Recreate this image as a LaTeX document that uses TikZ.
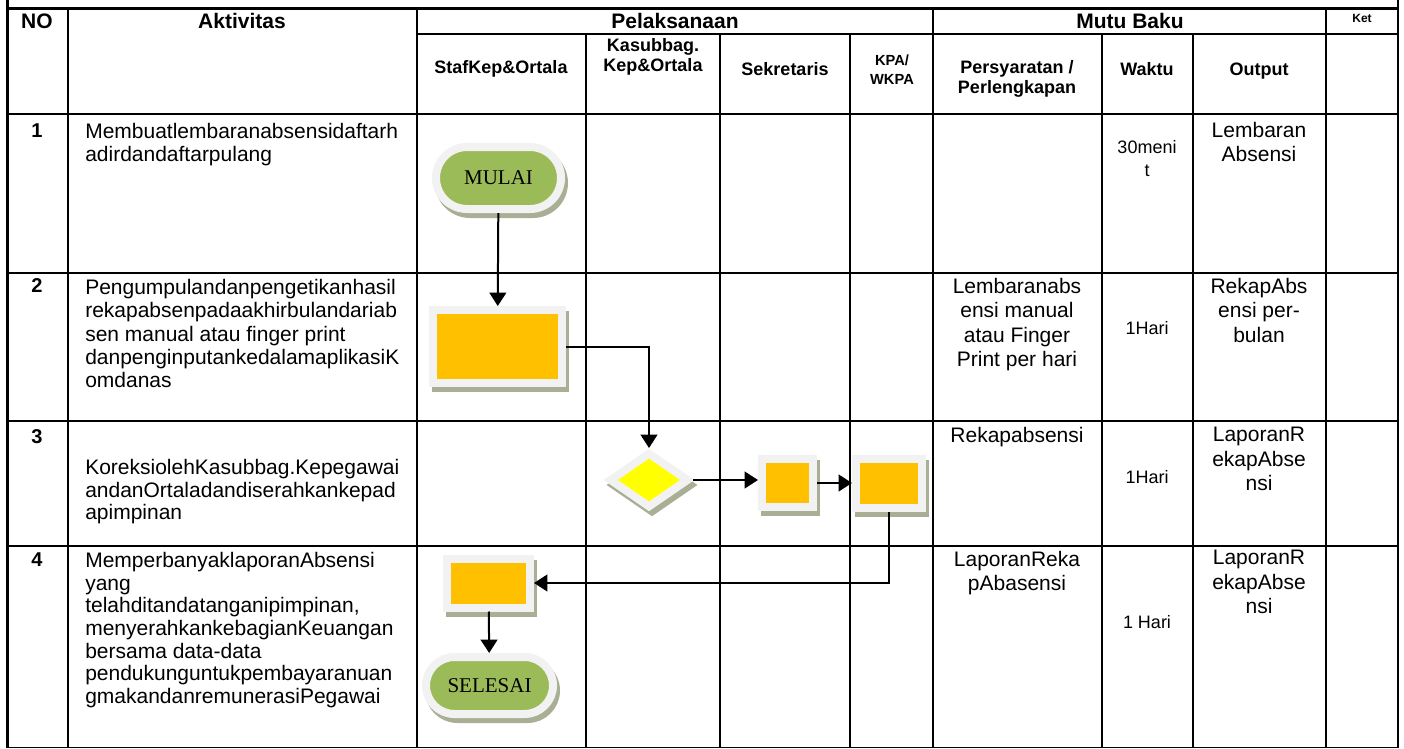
\documentclass[tikz,border=0pt]{standalone}
\usepackage{fontspec}
\setmainfont{Liberation Sans}
\newfontfamily\termserif{Liberation Serif}
\usetikzlibrary{shapes.geometric}
\usetikzlibrary{shapes.misc}
\usetikzlibrary{shadows}
\usetikzlibrary{arrows.meta}

\definecolor{termgreen}{HTML}{9BBB59}
\definecolor{procorange}{HTML}{FFC000}
\definecolor{decyellow}{HTML}{FFFF00}
\definecolor{rimgray}{HTML}{F2F2F2}
\definecolor{shadegray}{HTML}{A9AF95}

\newcommand\headfont{\fontsize{15.75pt}{18pt}\selectfont\bfseries}
\newcommand\subheadfont{\fontsize{13.5pt}{15pt}\selectfont\bfseries}
\newcommand\cellfont{\fontsize{15.75pt}{17pt}\selectfont}
\newcommand\mutufont{\fontsize{15.75pt}{18.3pt}\selectfont}
\newcommand\timefont{\fontsize{13.5pt}{17.25pt}\selectfont}

\begin{document}
\begin{tikzpicture}[x=0.75pt, y=-0.75pt,
  tablerule/.style={line width=1.1pt},
  outerrule/.style={line width=2.25pt},
  flowbox/.style={draw=rimgray, line width=6pt, inner sep=0pt,
    drop shadow={shadow xshift=2.25pt, shadow yshift=-3.75pt,
      fill=shadegray, draw=shadegray, line width=6pt, opacity=1}},
  termbox/.style={flowbox, rounded rectangle, fill=termgreen,
    font=\termserif\fontsize{15.75pt}{18pt}\selectfont},
  procbox/.style={flowbox, rectangle, fill=procorange},
  decbox/.style={flowbox, diamond, fill=decyellow},
  flowline/.style={line width=1.5pt, -{Triangle[length=10pt,width=12.5pt]}},
  actext/.style={anchor=north west, inner sep=0pt, align=left, font=\cellfont},
  mutext/.style={anchor=north, inner sep=0pt, align=center, font=\mutufont},
  numtext/.style={inner sep=0pt, font=\fontsize{15pt}{17pt}\selectfont\bfseries}]
\useasboundingbox (0,0) rectangle (1404,749);

% table rules
\foreach \y in {114,273,421,546} \draw[tablerule] (7,\y) -- (1398,\y);
\draw[tablerule] (417,34) -- (1398,34);
\foreach \x in {68,417,933,1326} \draw[tablerule] (\x,9) -- (\x,747.5);
\foreach \x in {586,720,850,1102,1193} \draw[tablerule] (\x,34) -- (\x,747.5);
\draw[outerrule] (7,9) -- (1398,9);
\draw[tablerule] (7,747.5) -- (1398,747.5);
\draw[outerrule] (7,0) -- (7,748);
\draw[tablerule] (1398,0) -- (1398,748);

% header
\node[font=\headfont] (hno) at (37,21) {NO};
\node[font=\headfont] (hakt) at (242,21) {Aktivitas};
\node[font=\headfont] (hpel) at (675,21) {Pelaksanaan};
\node[font=\headfont] (hmutu) at (1130,21) {Mutu Baku};
\node[font=\fontsize{9pt}{10pt}\selectfont\bfseries] (hket) at (1362,18) {Ket};
\node[font=\subheadfont] (hstaf) at (501,69) {StafKep\&Ortala};
\node[font=\subheadfont, align=center] (hkasub) at (653,57) {Kasubbag.\\Kep\&Ortala};
\node[font=\subheadfont] (hsekr) at (785,69) {Sekretaris};
\node[font=\fontsize{11pt}{14.5pt}\selectfont\bfseries, align=center] (hkpa) at (892,70) {KPA/\\WKPA};
\node[font=\subheadfont, align=center] (hsyarat) at (1017,79) {Persyaratan /\\Perlengkapan};
\node[font=\subheadfont] (hwaktu) at (1147,69) {Waktu};
\node[font=\subheadfont] (houtput) at (1259,71) {Output};

% row numbers
\node[numtext] (n1) at (37,131) {1};
\node[numtext] (n2) at (37,286) {2};
\node[numtext] (n3) at (37,437) {3};
\node[numtext] (n4) at (37,560) {4};

% aktivitas
\node[actext] (a1) at (85,123) {Membuatlembaranabsensidaftarh\\adirdandaftarpulang};
\node[actext, font=\fontsize{15.75pt}{17.5pt}\selectfont] (a2) at (85,279) {Pengumpulandanpengetikanhasil\\rekapabsenpadaakhirbulandariab\\sen manual atau finger print\\danpenginputankedalamaplikasiK\\omdanas};
\node[actext] (a3) at (85,459) {KoreksiolehKasubbag.Kepegawai\\andanOrtaladandiserahkankepad\\apimpinan};
\node[actext] (a4) at (85,552) {MemperbanyaklaporanAbsensi\\yang\\telahditandatanganipimpinan,\\menyerahkankebagianKeuangan\\bersama data-data\\pendukunguntukpembayaranuan\\gmakandanremunerasiPegawai};

% persyaratan
\node[mutext] (p2) at (1017,278) {Lembaranabs\\ensi manual\\atau Finger\\Print per hari};
\node[mutext] (p3) at (1017,427) {Rekapabsensi};
\node[mutext] (p4) at (1017,551) {LaporanReka\\pAbasensi};

% waktu
\node[mutext, font=\timefont] (w1) at (1147,140) {30meni\\t};
\node[inner sep=0pt, font=\timefont] (w2) at (1147,328) {1Hari};
\node[inner sep=0pt, font=\timefont] (w3) at (1147,477) {1Hari};
\node[inner sep=0pt, font=\timefont] (w4) at (1147,622) {1 Hari};

% output
\node[mutext] (o1) at (1259,122) {Lembaran\\Absensi};
\node[mutext] (o2) at (1259,278) {RekapAbs\\ensi per-\\bulan};
\node[mutext] (o3) at (1259,427) {LaporanR\\ekapAbse\\nsi};
\node[mutext] (o4) at (1259,550) {LaporanR\\ekapAbse\\nsi};

% flow
\node[termbox, minimum width=93.75pt, minimum height=46.5pt] (start) at (498.5,178) {MULAI};
\node[procbox, minimum width=96.75pt, minimum height=54.75pt] (rekap) at (497.5,346.5) {};
\node[decbox, minimum width=60pt, minimum height=42pt] (koreksi) at (649,480) {};
\node[procbox, minimum width=38.25pt, minimum height=36pt] (sekr) at (787.5,483) {};
\node[procbox, minimum width=49.5pt, minimum height=36.75pt] (kpa) at (889,483.5) {};
\node[procbox, minimum width=62.25pt, minimum height=36.75pt] (salin) at (488.5,583) {};
\node[termbox, minimum width=95.25pt, minimum height=42.75pt] (stop) at (489.5,685.5) {SELESAI};

\draw[flowline] (start) -- (rekap);
\draw[flowline] (rekap.east) -| (koreksi.north);
\draw[flowline] (koreksi.east) -- (koreksi.east -| sekr.west);
\draw[flowline] (sekr.east) -- (sekr.east -| kpa.west);
\draw[flowline] (kpa.south) |- (salin.east);
\draw[flowline] (salin) -- (stop);
\end{tikzpicture}
\end{document}
